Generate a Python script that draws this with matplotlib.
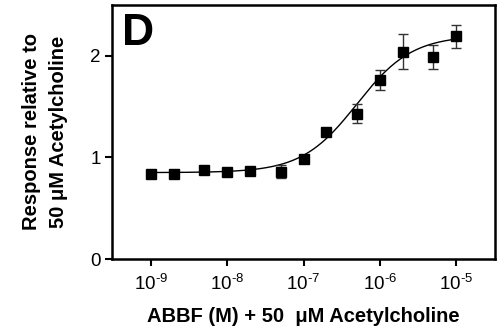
#!/usr/bin/env python3
"""Dose-response of ABBF with 50 uM acetylcholine (panel D)"""

import numpy as np
import matplotlib
matplotlib.use("Agg")
import matplotlib.pyplot as plt
from matplotlib.ticker import FixedLocator, NullLocator

# ========================================================================
# Data
# ========================================================================
conc = [1e-9, 2e-9, 5e-9, 1e-8, 2e-8, 5e-8, 1e-7, 2e-7, 5e-7, 1e-6, 2e-6, 5e-6, 1e-5]
response = [0.84, 0.84, 0.88, 0.86, 0.87, 0.86, 0.98, 1.25, 1.43, 1.76, 2.04, 1.99, 2.19]
sem = [0.02, 0.02, 0.02, 0.02, 0.02, 0.06, 0.02, 0.03, 0.095, 0.095, 0.17, 0.12, 0.11]

# sigmoid fit parameters (estimated from the drawn curve)
fit_bottom = 0.85
fit_top = 2.2
fit_logec50 = -6.3
fit_hill = 1.2

xticks = [1e-9, 1e-8, 1e-7, 1e-6, 1e-5]
xticklabels = [r"10$^{\text{-}9}$", r"10$^{\text{-}8}$", r"10$^{\text{-}7}$",
               r"10$^{\text{-}6}$", r"10$^{\text{-}5}$"]
yticks = [0, 1, 2]

# ========================================================================
# Plot
# ========================================================================
plt.rcParams["font.family"] = ["Liberation Sans", "DejaVu Sans"]
plt.rcParams["mathtext.fontset"] = "custom"
plt.rcParams["mathtext.rm"] = "Liberation Sans"
plt.rcParams["mathtext.it"] = "Liberation Sans"
plt.rcParams["axes.unicode_minus"] = False

fig = plt.figure(figsize=(4.98, 3.26), dpi=100)
ax = fig.add_axes([0.225, 0.2055, 0.769, 0.7795])

logx = np.linspace(np.log10(conc[0]), np.log10(conc[-1]), 300)
fit = fit_bottom + (fit_top - fit_bottom) / (1 + 10 ** ((fit_logec50 - logx) * fit_hill))
ax.plot(10 ** logx, fit, color="k", lw=1.0, zorder=2)

ax.errorbar(
    conc, response, yerr=sem,
    fmt="s", color="k", ms=7.5, ecolor="#333333", elinewidth=1.0,
    capsize=3.5, capthick=1.0, zorder=3,
)

ax.set_xscale("log")
ax.set_xlim(10 ** -9.51, 10 ** -4.49)
ax.set_ylim(0, 2.5)
ax.xaxis.set_major_locator(FixedLocator(xticks))
ax.xaxis.set_minor_locator(NullLocator())
ax.set_xticklabels(xticklabels)
ax.set_yticks(yticks)

for sp in ax.spines.values():
    sp.set_linewidth(1.8)
ax.tick_params(axis="both", direction="out", length=5, width=1.5, labelsize=13.5)
ax.tick_params(axis="x", pad=6)
ax.tick_params(axis="y", pad=3)

ax.set_xlabel("ABBF (M) + 50  μM Acetylcholine", fontsize=14.5, fontweight="bold", labelpad=9)
ax.set_ylabel("Response relative to\n50 μM Acetylcholine", fontsize=14.5, fontweight="bold",
              labelpad=16, linespacing=1.55)

ax.text(0.025, 0.97, "D", transform=ax.transAxes, fontsize=32, fontweight="bold",
        va="top", ha="left")

fig.savefig("out.png", dpi=100)
